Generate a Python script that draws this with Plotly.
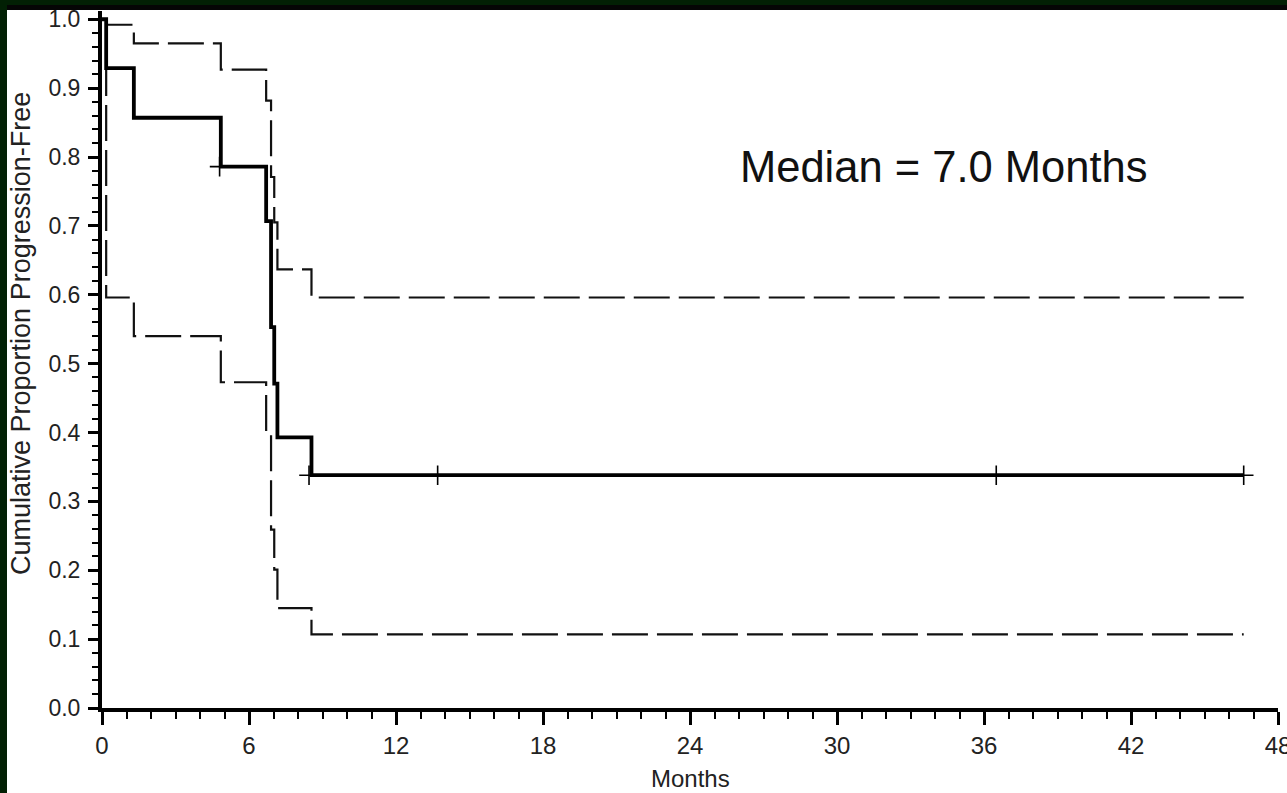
import plotly.graph_objects as go

# ---- data ----
step_times = [0, 0.17, 1.3, 4.85, 6.7, 6.9, 7.03, 7.16, 8.55, 46.6]
km_est     = [1.0, 0.929, 0.857, 0.786, 0.707, 0.553, 0.471, 0.393, 0.338, 0.338]
ci_upper   = [1.0, 0.992, 0.965, 0.927, 0.882, 0.771, 0.705, 0.637, 0.596, 0.596]
ci_lower   = [1.0, 0.596, 0.540, 0.473, 0.397, 0.259, 0.201, 0.145, 0.107, 0.107]
censor_t   = [4.8, 8.45, 13.7, 36.5, 46.6]
censor_s   = [0.786, 0.338, 0.338, 0.338, 0.338]
x_ticks    = [0, 6, 12, 18, 24, 30, 36, 42, 48]
y_ticks    = [0.0, 0.1, 0.2, 0.3, 0.4, 0.5, 0.6, 0.7, 0.8, 0.9, 1.0]
median_txt = "Median = 7.0 Months"
y_title    = "Cumulative Proportion Progression-Free"
x_title    = "Months"

W, H = 1287, 793
ML, MR, MT, MB = 102, 9, 11, 85
PW, PH = W - ML - MR, H - MT - MB
FONT = "Liberation Sans, Arial, sans-serif"

fig = go.Figure()
for ys in (ci_upper, ci_lower):
    fig.add_trace(go.Scatter(x=step_times, y=ys, mode="lines", line_shape="hv",
                             line=dict(color="#111", width=2.2, dash="36px,9px"),
                             hoverinfo="skip", showlegend=False))
fig.add_trace(go.Scatter(x=step_times, y=km_est, mode="lines", line_shape="hv",
                         line=dict(color="#000", width=3.8), showlegend=False))
fig.add_trace(go.Scatter(x=censor_t, y=censor_s, mode="markers",
                         marker=dict(symbol="cross-thin", size=14,
                                     line=dict(color="#000", width=1.6)),
                         showlegend=False, cliponaxis=False))

def px_x(p):
    return (p - ML) / PW

def px_y(p):
    return (H - MB - p) / PH

shapes = [
    dict(type="rect", xref="paper", yref="paper", x0=px_x(0), x1=px_x(W), y0=px_y(0), y1=px_y(5),
         fillcolor="#022004", line_width=0, layer="above"),
    dict(type="rect", xref="paper", yref="paper", x0=px_x(7), x1=px_x(W), y0=px_y(5), y1=px_y(10),
         fillcolor="#050505", line_width=0, layer="above"),
    dict(type="rect", xref="paper", yref="paper", x0=px_x(0), x1=px_x(7), y0=px_y(0), y1=px_y(H),
         fillcolor="#022004", line_width=0, layer="above"),
]

fig.add_annotation(x=34.35, y=0.786, xref="x", yref="y", text=median_txt, showarrow=False,
                   xanchor="center", yanchor="middle",
                   font=dict(family=FONT, size=43.5, color="#111"))
fig.add_annotation(x=px_x(21), y=px_y(334), xref="paper", yref="paper", text=y_title,
                   showarrow=False, textangle=-90, xanchor="center", yanchor="middle",
                   font=dict(family=FONT, size=27, color="#222"))
fig.add_annotation(x=24, y=px_y(778), xref="x", yref="paper", text=x_title,
                   showarrow=False, xanchor="center", yanchor="middle",
                   font=dict(family=FONT, size=24, color="#222"))

fig.update_layout(
    width=W, height=H,
    margin=dict(l=ML, r=MR, t=MT, b=MB, autoexpand=False),
    paper_bgcolor="white", plot_bgcolor="white",
    shapes=shapes,
    font=dict(family=FONT, color="#222"),
    xaxis=dict(range=[0, 48], tickvals=x_ticks, ticktext=[str(v) for v in x_ticks],
               automargin=False,
               showgrid=False, zeroline=False, showline=True, linecolor="#000", linewidth=3.5,
               ticks="outside", ticklen=13, tickwidth=3, tickcolor="#000",
               ticklabeloverflow="allow",
               tickfont=dict(size=24, color="#222"),
               minor=dict(dtick=1, ticks="outside", ticklen=7, tickwidth=2, tickcolor="#000")),
    yaxis=dict(range=[0, 1.012], tickvals=y_ticks, ticktext=[f"{v:.1f}" for v in y_ticks],
               automargin=False,
               showgrid=False, zeroline=False, showline=True, linecolor="#000", linewidth=4,
               ticks="outside", ticklen=10, tickwidth=3, tickcolor="#000",
               ticklabelstandoff=3,
               tickfont=dict(size=23, color="#222"),
               minor=dict(dtick=0.02, ticks="outside", ticklen=6, tickwidth=2, tickcolor="#000")),
)

fig.write_html("out.html")
